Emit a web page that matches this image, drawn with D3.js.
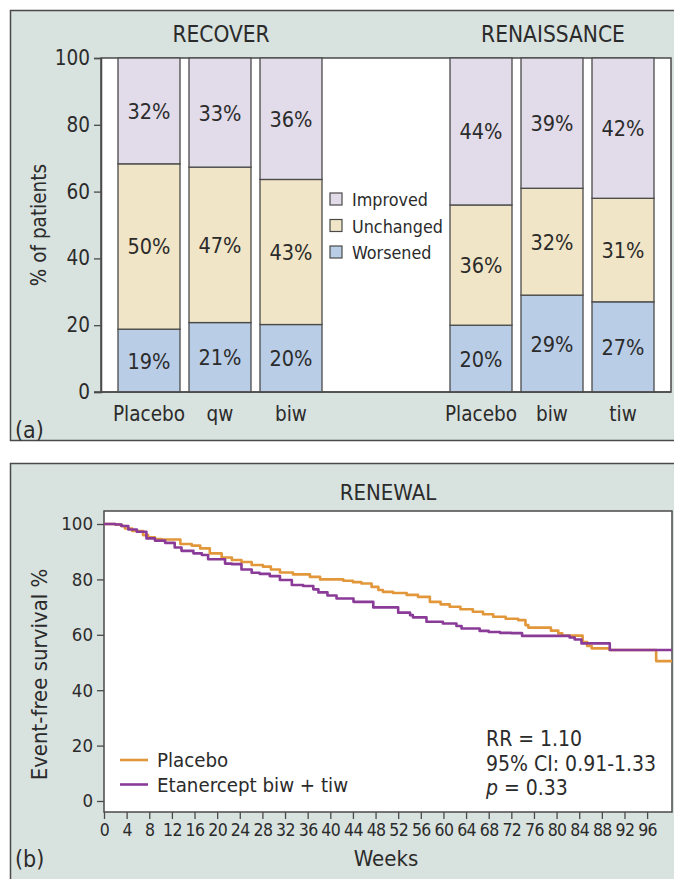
<!DOCTYPE html>
<html>
<head>
<meta charset="utf-8">
<script src="https://cdn.jsdelivr.net/npm/d3@7"></script>
<style>
  html, body { margin: 0; padding: 0; background: #ffffff; }
  svg { display: block; }
  text { font-family: "DejaVu Sans Condensed", "Liberation Sans", Arial, sans-serif; fill: #2b2b2b; }
</style>
</head>
<body>
<svg id="fig" width="674" height="879"></svg>
<script>
// ---- Panel (a): response categories, stacked per arm ----
const trials = ["RECOVER", "RENAISSANCE"];
const recoverArms = ["Placebo", "qw", "biw"];
const renaissanceArms = ["Placebo", "biw", "tiw"];
const outcomes = ["Worsened", "Unchanged", "Improved"];
const legendOrder = ["Improved", "Unchanged", "Worsened"];
const recoverWorsened = [19, 21, 20];
const recoverUnchanged = [50, 47, 43];
const recoverImproved = [32, 33, 36];
const renaissanceWorsened = [20, 29, 27];
const renaissanceUnchanged = [36, 32, 31];
const renaissanceImproved = [44, 39, 42];
const barTicks = [0, 20, 40, 60, 80, 100];

// ---- Panel (b): event-free survival (Kaplan-Meier steps) ----
const weeks = d3.range(0, 97, 4);
const survTicks = [0, 20, 40, 60, 80, 100];
const placeboWeeks = [0, 2, 3, 3.7, 5, 6.9, 7.8, 9, 10.2, 13.5, 15.5, 17, 18.7, 20.8, 22.6, 24.3, 26.1, 28.1, 29.5, 31.1, 33.4, 36.4, 38.2, 42.3, 44, 45.5, 47.3, 48.5, 49.3, 51.1, 53.5, 55.5, 57.6, 59.5, 61.1, 63, 65.2, 67, 68.8, 71, 73.2, 74.5, 75, 79, 80.3, 81, 84.6, 85.4, 86.2, 89.4, 97.6, 100.4];
const placeboSurv = [100, 99.8, 99.3, 98.4, 97.5, 96, 95.2, 94.6, 94.4, 92.8, 92.2, 91.2, 89.4, 87.9, 87, 86.3, 85.2, 84.6, 83.6, 82.5, 81.8, 80.9, 80, 79.5, 79, 78.5, 77.3, 76.2, 75.5, 75.1, 74.4, 73.7, 71.9, 71, 70.1, 69.2, 68.3, 67.4, 66.5, 65.8, 65.3, 63.5, 62.6, 61.5, 60.5, 59.7, 57.4, 56, 55.1, 54.5, 50.5, 50.5];
const etanerceptWeeks = [0, 2, 3.1, 4.3, 5.8, 7.5, 9, 10.8, 12.5, 13.7, 15.8, 17.3, 18.4, 21.4, 22.6, 24.3, 26.1, 27.5, 29.3, 31.1, 33.2, 35.2, 37, 37.9, 39.5, 41.1, 44.1, 47.6, 52, 54.1, 54.6, 57, 59.9, 62.3, 63.2, 66.4, 68, 70, 72, 73.9, 81.4, 82.3, 83.2, 84.4, 89.4, 100.4];
const etanerceptSurv = [100, 99.8, 99.3, 98, 97.2, 94.8, 94, 93.2, 91.5, 90.3, 89.4, 88.8, 87.3, 85.7, 85.5, 83.6, 82.4, 82, 81.2, 79.8, 78, 77.6, 76.4, 75.3, 74.2, 73.1, 71.9, 69.9, 68, 67.1, 66.3, 64.7, 64.1, 63.2, 62.3, 61.4, 61, 60.7, 60.6, 59.6, 59.6, 59, 58.3, 56.9, 54.5, 54.5];
const seriesNames = ["Placebo", "Etanercept biw + tiw"];
const statLines = ["RR = 1.10", "95% CI: 0.91-1.33"];

// ---- styling ----
const panelFill = "#d8e2df";
const edge = "#4a4a4a";
const fills = { Improved: "#e2dbe9", Unchanged: "#f0e5c6", Worsened: "#b9cde6" };
const lineColors = ["#e2973a", "#8a3b98"];
const font = "'DejaVu Sans Condensed', 'Liberation Sans', Arial, sans-serif";

const svg = d3.select("#fig");

// ================= Panel (a) =================
svg.append("rect").attr("x", 10.5).attr("y", 10.5).attr("width", 700).attr("height", 430)
  .attr("fill", panelFill).attr("stroke", edge).attr("stroke-width", 1.5);

const yA = d3.scaleLinear().domain([0, 100]).range([392, 58]);
const plotA = { left: 101, right: 671 };

svg.append("rect").attr("x", plotA.left).attr("y", yA(100))
  .attr("width", plotA.right - plotA.left).attr("height", yA(0) - yA(100))
  .attr("fill", "#ffffff").attr("stroke", edge).attr("stroke-width", 1.5);

const groups = [
  { name: trials[0], arms: recoverArms, range: [118, 322],
    vals: { Worsened: recoverWorsened, Unchanged: recoverUnchanged, Improved: recoverImproved } },
  { name: trials[1], arms: renaissanceArms, range: [450, 654],
    vals: { Worsened: renaissanceWorsened, Unchanged: renaissanceUnchanged, Improved: renaissanceImproved } }
];

groups.forEach(g => {
  const xb = d3.scaleBand().domain(d3.range(g.arms.length)).range(g.range)
    .paddingInner(9 / 71).paddingOuter(0);
  const rows = g.arms.map((arm, i) => {
    const r = { i };
    outcomes.forEach(o => r[o] = g.vals[o][i]);
    return r;
  });
  // Each arm is scaled to its own total so the stacks fill 0-100
  const norm = rows.map(r => {
    const tot = d3.sum(outcomes, o => r[o]);
    const n = { i: r.i };
    outcomes.forEach(o => n[o] = r[o] / tot * 100);
    return n;
  });
  const stacked = d3.stack().keys(outcomes)(norm);
  const gg = svg.append("g");
  stacked.forEach(layer => {
    layer.forEach((seg, i) => {
      const x = xb(i), w = xb.bandwidth();
      gg.append("rect").attr("x", x).attr("y", yA(seg[1]))
        .attr("width", w).attr("height", yA(seg[0]) - yA(seg[1]))
        .attr("fill", fills[layer.key]).attr("stroke", edge).attr("stroke-width", 1.3);
      gg.append("text").attr("x", x + w / 2).attr("y", yA((seg[0] + seg[1]) / 2) + 8)
        .attr("text-anchor", "middle").attr("font-size", 21.5)
        .text(g.vals[layer.key][i] + "%");
    });
  });
  // arm labels
  g.arms.forEach((arm, i) => {
    svg.append("text").attr("x", xb(i) + xb.bandwidth() / 2).attr("y", 421)
      .attr("text-anchor", "middle").attr("font-size", 20.5).text(arm);
  });
  svg.append("text").attr("x", (g.range[0] + g.range[1]) / 2 + 1).attr("y", 42)
    .attr("text-anchor", "middle").attr("font-size", 22.5).text(g.name);
});

const axA = svg.append("g").attr("transform", `translate(${plotA.left},0)`)
  .call(d3.axisLeft(yA).tickValues(barTicks).tickSize(7).tickPadding(4));
axA.select(".domain").attr("stroke", edge).attr("stroke-width", 1.5);
axA.selectAll(".tick line").attr("stroke", edge).attr("stroke-width", 1.3);
axA.selectAll(".tick text").attr("font-size", 20.5).attr("fill", "#2b2b2b").style("font-family", font);
svg.append("line").attr("x1", plotA.left - 7).attr("x2", plotA.right)
  .attr("y1", yA(0)).attr("y2", yA(0)).attr("stroke", edge).attr("stroke-width", 1.5);

svg.append("text").attr("transform", `translate(46,${(yA(0) + yA(100)) / 2}) rotate(-90)`)
  .attr("text-anchor", "middle").attr("font-size", 20.5).text("% of patients");
svg.append("text").attr("x", 15).attr("y", 438).attr("font-size", 23).text("(a)");

// legend
const legA = svg.append("g").attr("transform", "translate(330,193)");
legendOrder.forEach((k, i) => {
  legA.append("rect").attr("x", 0).attr("y", i * 26.5).attr("width", 12).attr("height", 12)
    .attr("fill", fills[k]).attr("stroke", edge).attr("stroke-width", 1.2);
  legA.append("text").attr("x", 22).attr("y", i * 26.5 + 13).attr("font-size", 17.8).text(k);
});

// ================= Panel (b) =================
svg.append("rect").attr("x", 10.5).attr("y", 463.5).attr("width", 700).attr("height", 440)
  .attr("fill", panelFill).attr("stroke", edge).attr("stroke-width", 1.5);

const xB = d3.scaleLinear().domain([0, 100.4]).range([104, 672]);
const yB = d3.scaleLinear().domain([0, 100]).range([801, 524]);
const frameB = { top: 511, bottom: 812 };

svg.append("rect").attr("x", xB(0)).attr("y", frameB.top)
  .attr("width", xB(100.4) - xB(0)).attr("height", frameB.bottom - frameB.top)
  .attr("fill", "#ffffff").attr("stroke", edge).attr("stroke-width", 1.5);

const ayB = svg.append("g").attr("transform", `translate(${xB(0)},0)`)
  .call(d3.axisLeft(yB).tickValues(survTicks).tickSize(7).tickPadding(4));
ayB.select(".domain").remove();
ayB.selectAll(".tick line").attr("stroke", edge).attr("stroke-width", 1.3);
ayB.selectAll(".tick text").attr("font-size", 18.5).attr("fill", "#2b2b2b").style("font-family", font);

const axB = svg.append("g").attr("transform", `translate(0,${frameB.bottom})`)
  .call(d3.axisBottom(xB).tickValues(weeks).tickSize(7).tickPadding(5));
axB.select(".domain").remove();
axB.selectAll(".tick line").attr("stroke", edge).attr("stroke-width", 1.3);
axB.selectAll(".tick text").attr("font-size", 17.5).attr("fill", "#2b2b2b")
  .attr("letter-spacing", -0.6).style("font-family", font);

const line = d3.line().x(d => xB(d[0])).y(d => yB(d[1])).curve(d3.curveStepAfter);
const curves = [
  d3.zip(placeboWeeks, placeboSurv),
  d3.zip(etanerceptWeeks, etanerceptSurv)
];
curves.forEach((c, i) => {
  svg.append("path").datum(c).attr("d", line).attr("fill", "none")
    .attr("stroke", lineColors[i]).attr("stroke-width", 2.6).attr("stroke-linejoin", "round");
});

svg.append("text").attr("x", 388).attr("y", 500)
  .attr("text-anchor", "middle").attr("font-size", 22).text("RENEWAL");
svg.append("text").attr("x", 386).attr("y", 866).attr("text-anchor", "middle")
  .attr("font-size", 22).text("Weeks");
svg.append("text").attr("transform", `translate(47,${(yB(0) + yB(100)) / 2 + 12}) rotate(-90)`)
  .attr("text-anchor", "middle").attr("font-size", 22).text("Event-free survival %");
svg.append("text").attr("x", 15).attr("y", 867).attr("font-size", 23).text("(b)");

// legend
seriesNames.forEach((s, i) => {
  const y = 760 + i * 24.5;
  svg.append("line").attr("x1", 120).attr("x2", 148).attr("y1", y).attr("y2", y)
    .attr("stroke", lineColors[i]).attr("stroke-width", 2.6);
  svg.append("text").attr("x", 157).attr("y", y + 7).attr("font-size", 20.3).text(s);
});

// statistics
statLines.forEach((s, i) => {
  svg.append("text").attr("x", 486).attr("y", 746 + i * 24.5).attr("font-size", 21).text(s);
});
const pText = svg.append("text").attr("x", 486).attr("y", 795).attr("font-size", 21);
pText.append("tspan").attr("font-style", "italic").text("p");
pText.append("tspan").text(" = 0.33");
</script>
</body>
</html>
